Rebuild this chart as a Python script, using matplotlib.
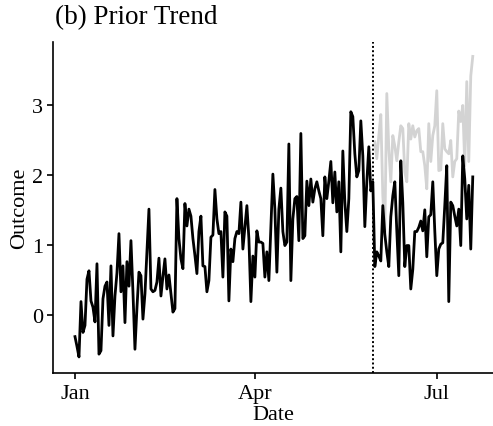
import matplotlib
matplotlib.use("Agg")
import matplotlib.pyplot as plt
import pandas as pd

# observed outcome, one value per day from Jan 1
outcome = [
    -0.31, -0.45, -0.6, 0.19, -0.25, -0.15, 0.51, 0.63, 0.2, 0.11,
    -0.1, 0.73, -0.56, -0.51, 0.23, 0.41, 0.47, -0.15, 0.7, -0.3,
    0.27, 0.6, 1.16, 0.33, 0.7, -0.11, 0.76, 0.41, 1.06, 0.33,
    -0.49, 0.1, 0.61, 0.56, -0.06, 0.3, 0.9, 1.51, 0.37, 0.33,
    0.35, 0.47, 0.81, 0.27, 0.55, 0.8, 0.37, 0.57, 0.3, 0.04,
    0.09, 1.66, 1.09, 0.8, 0.66, 1.59, 1.27, 1.51, 1.41, 1.09,
    0.85, 0.59, 1.19, 1.41, 0.7, 0.69, 0.33, 0.49, 1.11, 1.14,
    1.79, 1.37, 1.16, 1.19, 0.54, 1.47, 1.41, 0.2, 0.94, 0.76,
    1.09, 1.19, 1.16, 1.61, 0.94, 1.25, 1.56, 1.09, 0.19, 0.84,
    0.54, 1.2, 1.04, 1.04, 1.02, 0.54, 0.9, 0.49, 1.27, 2.01,
    1.51, 0.61, 1.51, 1.81, 1.19, 0.99, 1.04, 2.44, 0.49, 1.37,
    1.66, 1.69, 1.06, 2.59, 1.09, 1.13, 1.91, 1.56, 1.94, 1.61,
    1.8, 1.9, 1.77, 1.66, 1.13, 1.97, 1.66, 1.91, 2.19, 1.6,
    2.04, 1.47, 1.9, 0.9, 2.34, 1.61, 1.19, 1.66, 2.9, 2.83,
    2.3, 1.97, 2.06, 2.77, 2.27, 1.26, 1.9, 2.4, 1.77, 1.9,
    0.69, 0.9, 0.84, 0.77, 1.56, 1.15, 0.9, 0.69, 1.4, 1.7,
    1.9, 1.2, 0.56, 2.2, 1.6, 0.69, 0.99, 0.99, 0.37, 0.65,
    1.19, 1.19, 1.25, 1.34, 1.2, 1.5, 0.83, 1.4, 1.43, 1.9,
    1.2, 0.56, 0.94, 1.01, 1.03, 1.56, 2.13, 0.19, 1.61, 1.56,
    1.41, 1.27, 1.51, 0.99, 2.27, 1.94, 1.37, 1.85, 0.94, 1.97,
]

# counterfactual (no intervention), from the day after the cutoff
counterfactual = [
    2.47, 2.23, 2.56, 2.86, 1.7, 1.19, 3.16, 2.37, 1.9, 2.56,
    2.41, 2.2, 2.47, 2.7, 2.66, 2.04, 1.9, 2.73, 2.51, 2.7,
    2.54, 2.63, 2.66, 2.33, 2.33, 2.13, 1.8, 2.73, 2.19, 2.56,
    2.7, 3.2, 2.06, 2.07, 2.73, 2.37, 2.33, 2.3, 2.49, 1.97,
    2.19, 2.23, 2.91, 2.76, 2.99, 2.13, 3.33, 2.19, 3.41, 3.69,
]

start_date = "2021-01-01"
cutoff_date = "2021-05-30"
tick_dates = ["2021-01-01", "2021-04-01", "2021-07-01"]
tick_labels = ["Jan", "Apr", "Jul"]
y_ticks = [0, 1, 2, 3]

dates = pd.date_range(start_date, periods=len(outcome), freq="D")
cf_dates = dates[len(outcome) - len(counterfactual):]

plt.rcParams["font.family"] = ["Liberation Serif", "DejaVu Serif"]

fig = plt.figure(figsize=(4.93, 4.27), dpi=100)
ax = fig.add_axes([0.1075, 0.124, 0.892, 0.776])

ax.plot(cf_dates, counterfactual, color="#d3d3d3", lw=2.0, solid_joinstyle="round")
ax.plot(dates, outcome, color="black", lw=2.0, solid_joinstyle="round")
ax.axvline(pd.Timestamp(cutoff_date), color="black", lw=1.4, ls=(0, (1, 1.2)))

ax.set_xlim(pd.Timestamp(start_date) - pd.Timedelta(days=11),
            pd.Timestamp(start_date) + pd.Timedelta(days=209))
ax.set_ylim(-0.83, 3.9)

ax.set_xticks([pd.Timestamp(d) for d in tick_dates])
ax.set_xticklabels(tick_labels)
ax.set_yticks(y_ticks)

for side in ["top", "right"]:
    ax.spines[side].set_visible(False)
for side in ["left", "bottom"]:
    ax.spines[side].set_linewidth(1.2)

ax.tick_params(axis="both", length=4, width=1.2, labelsize=16, colors="black", pad=3)
ax.tick_params(axis="x", pad=4)
ax.set_xlabel("Date", fontsize=16, labelpad=1.5)
ax.set_ylabel("Outcome", fontsize=16, labelpad=2)

fig.text(55 / 493, 1 - 18 / 427, "(b) Prior Trend", fontsize=19.5, ha="left", va="center")

fig.savefig("out.png", dpi=100)
